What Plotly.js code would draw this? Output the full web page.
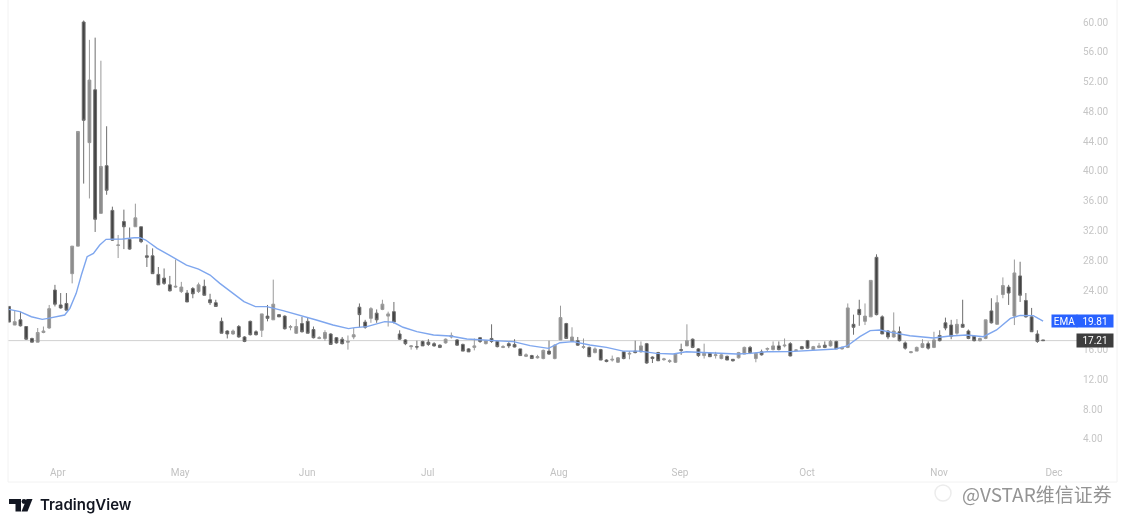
<!DOCTYPE html>
<html>
<head>
<meta charset="utf-8">
<script src="https://cdn.plot.ly/plotly-3.0.1.min.js"></script>
<style>
  html, body { margin: 0; padding: 0; background: #fff; }
  #chart { width: 1125px; height: 529px; filter: blur(0.4px); }
  #logo { position: absolute; left: 9px; top: 499px; filter: blur(0.3px); }
</style>
</head>
<body>
<div id="chart"></div>
<svg id="logo" width="24" height="13" viewBox="0 0 24 13">
  <path d="M0 0H12V12.5H6.5V5H0Z" fill="#131722"/>
  <circle cx="15" cy="2.5" r="2.4" fill="#131722"/>
  <path d="M17.5 0H23.5L18.5 12.5H12.5Z" fill="#131722"/>
</svg>
<script>
const opens = [21.8,19.3,20.0,19.1,17.5,17.0,18.3,18.9,24.0,22.0,22.2,26.2,29.9,60.0,43.8,50.9,34.3,40.7,34.7,30.0,
  33.2,30.8,32.5,32.5,28.6,28.6,26.1,25.6,24.7,24.4,23.8,23.6,24.2,23.8,24.5,22.7,22.3,19.8,18.5,18.1,
  19.1,17.7,19.8,18.4,18.6,20.5,20.0,20.7,20.5,19.0,18.2,19.5,19.8,18.7,17.5,17.5,18.1,17.6,17.4,17.0,
  17.7,21.7,19.7,20.2,20.9,21.4,20.5,21.1,18.1,17.3,16.4,16.4,17.1,17.0,16.8,16.6,16.9,17.7,17.3,16.7,
  16.1,16.3,17.6,16.8,17.5,17.1,16.3,16.8,16.7,16.1,15.1,15.2,14.9,14.8,15.8,14.8,17.3,19.5,17.1,17.2,
  16.3,16.3,15.6,16.0,14.6,14.6,14.3,15.7,15.4,15.8,15.7,16.8,15.0,15.6,14.65,14.4,14.3,16.0,16.5,17.4,
  16.1,15.2,15.5,15.2,14.8,15.1,14.7,14.9,15.4,16.3,14.8,15.7,16.05,16.0,16.5,16.5,16.8,15.9,16.4,17.2,
  16.0,16.3,16.6,16.5,17.1,16.1,16.3,19.4,21.4,19.8,20.4,28.4,20.4,18.5,17.7,18.4,16.9,15.6,15.8,16.3,
  16.8,16.3,17.9,19.6,19.3,18.2,19.4,18.5,17.8,17.2,17.5,21.2,19.4,23.4,24.4,20.5,25.9,22.6,20.4,18.1,17.3];
const highs = [21.8,21.3,21.1,19.1,17.6,18.9,19.1,22.0,24.7,23.6,23.6,29.9,45.3,60.2,57.6,57.9,54.8,46.0,35.2,31.4,
  34.8,32.4,35.6,32.5,30.1,29.6,27.1,26.9,25.9,28.1,25.1,24.0,24.4,25.0,25.4,23.5,22.7,20.3,18.6,18.7,
  19.3,17.8,19.9,18.6,20.8,22.0,25.4,20.7,20.6,19.3,20.1,20.4,20.3,19.1,17.8,18.6,18.2,17.7,17.7,17.9,
  18.9,22.2,20.0,21.7,21.4,22.7,21.1,22.4,18.6,17.4,16.6,17.2,17.2,17.4,17.0,16.7,17.5,18.3,17.4,16.8,
  16.2,17.5,17.7,17.3,19.4,17.2,16.6,17.0,17.4,16.1,15.5,15.3,15.3,16.0,17.2,16.7,21.9,19.6,19.0,17.7,
  17.5,16.4,16.3,16.1,14.7,15.2,15.0,15.8,15.8,17.2,17.1,16.9,15.1,15.7,14.9,14.7,15.5,16.8,19.4,17.5,
  16.2,16.8,15.6,15.7,15.5,15.2,14.7,15.7,16.4,16.5,15.6,16.0,16.3,17.1,17.1,17.5,17.0,16.0,16.5,17.3,
  16.5,16.9,17.1,17.3,17.2,16.4,22.2,20.7,22.7,22.2,25.3,28.8,20.6,18.6,21.0,19.1,17.1,15.8,16.4,17.4,
  17.1,18.4,18.6,20.3,20.0,20.1,22.7,18.7,17.9,17.6,20.0,22.9,23.3,25.7,24.7,28.1,27.8,23.6,21.6,18.6,17.3];
const lows = [19.7,19.3,19.1,17.3,17.0,17.0,18.2,18.8,21.8,21.5,21.3,24.9,29.9,38.3,36.3,31.8,34.3,36.8,30.6,28.3,
  29.5,29.4,32.5,30.3,27.1,26.2,24.7,24.7,23.8,24.3,23.6,22.4,22.9,23.6,23.3,22.0,21.8,18.2,17.5,18.0,
  17.6,17.0,17.9,17.9,17.7,19.8,20.0,20.4,18.7,18.6,18.1,18.3,18.2,17.5,17.4,17.2,16.7,16.8,16.7,16.0,
  17.4,19.0,18.8,19.6,19.6,21.3,19.1,19.5,17.3,16.6,16.0,16.0,16.5,16.5,16.4,16.2,16.8,17.5,16.5,15.8,
  15.7,15.9,16.9,16.7,16.9,16.3,16.2,16.2,16.3,15.2,15.0,14.8,14.8,14.7,15.3,14.7,17.3,17.5,17.1,16.5,
  16.1,15.0,15.5,14.6,14.3,14.4,14.2,14.7,14.7,15.5,15.6,14.1,14.2,14.5,14.5,14.2,14.2,15.3,16.5,16.2,
  15.0,14.8,15.0,14.8,14.7,14.6,14.4,14.8,15.4,15.4,14.3,15.2,15.8,15.9,15.9,16.3,15.1,15.8,16.1,16.1,
  16.0,16.2,16.2,16.4,16.1,16.0,16.2,18.0,19.2,19.3,20.4,20.6,18.1,17.4,17.6,17.1,16.0,15.5,15.8,16.2,
  16.0,16.2,17.1,18.6,17.4,18.0,19.0,17.4,17.1,17.1,17.4,19.5,19.4,22.9,22.0,19.3,22.4,20.3,18.4,16.9,17.2];
const closes = [19.7,19.75,19.2,17.4,17.0,18.3,18.5,21.5,22.1,21.6,21.3,29.9,45.3,46.8,52.2,33.5,40.6,37.4,30.7,30.05,
  32.5,29.5,33.7,30.5,28.4,26.2,24.7,24.9,23.9,24.5,24.4,22.4,23.5,24.7,23.3,22.3,21.8,18.2,18.1,18.5,
  17.7,17.1,18.0,18.0,20.8,20.2,22.1,20.4,18.8,19.1,19.1,18.4,18.2,17.6,17.6,18.3,16.7,16.9,16.8,17.1,
  18.0,20.7,19.0,21.5,20.0,22.1,20.8,19.7,17.4,16.8,16.5,16.35,16.5,16.7,16.5,16.3,17.4,17.9,16.6,15.8,
  15.7,16.5,17.1,17.2,17.1,16.4,16.4,16.5,16.35,15.2,15.3,14.8,15.05,15.9,15.4,16.6,20.3,17.5,17.7,16.6,
  16.4,15.05,16.1,14.6,14.4,14.7,14.9,14.8,15.5,15.6,16.5,14.2,14.8,14.5,14.75,14.5,15.4,15.9,17.2,16.3,
  15.2,15.5,15.05,15.3,15.3,14.6,14.5,15.6,16.3,15.6,15.5,15.3,16.15,16.5,16.0,16.6,15.15,15.95,16.1,16.2,
  16.4,16.5,16.3,17.1,16.1,16.3,21.6,19.0,20.7,20.5,25.3,20.7,18.1,17.7,18.5,17.2,16.2,15.7,16.3,16.8,
  16.2,17.3,17.2,18.9,17.8,19.4,19.0,17.5,17.2,17.5,20.0,19.6,22.3,24.6,23.6,26.3,23.3,20.4,18.4,17.1,17.21];

const emaIdx = [0,1.9,3.9,5.8,6.8,9.7,10.6,11.7,12.6,13.6,14.7,15.8,16.9,17.8,19.8,21.8,22.8,23.8,25.8,27.9,30.9,33,35,36.7,38.9,40.9,42.9,44.9,
  47.7,50.6,53.5,56.4,59.1,60.2,62.3,65.4,66.9,68.6,71,73.9,76.8,79.7,82.6,85.5,
  87.8,90.7,93.9,95.9,98.2,101.1,104,106.9,109.8,112.7,115.6,117.9,121.4,124.3,126.7,129,131.9,
  135.9,139.4,143.9,145.9,148.1,149.9,151.6,153.6,156.8,160.9,163.8,166.7,169.6,171.9,174.3,176,178.3,180];
const emaVal = [21.41,21.1,20.42,20.07,20.2,20.65,21.54,23.56,26.02,28.48,28.93,30.05,30.81,30.81,30.86,31.03,31.03,30.72,29.6,28.7,27.36,26.8,26.02,24.9,23.56,22.44,21.77,21.77,
  21.23,20.65,19.98,19.31,18.82,18.95,19.09,19.76,19.67,19,18.41,17.97,17.83,17.43,17.3,17.2,
  17.07,16.53,16.17,16.93,17.07,16.62,16.31,15.8,15.8,15.5,15.41,15.72,15.59,15.5,15.41,15.5,15.72,
  15.73,15.86,16.08,16.49,17.74,18.55,18.64,18.32,17.87,17.56,17.83,17.96,17.74,18.64,20.2,20.6,20.56,19.84];

const monthTicks = [8.5,29.8,51.9,72.9,95.7,116.8,138.9,161.9,181.9];
const monthLabels = ['Apr','May','Jun','Jul','Aug','Sep','Oct','Nov','Dec'];
const priceTicks = [60,56,52,48,44,40,36,32,28,24,16,12,8,4]; // 20.00 sits behind the EMA tag
const lastPrice = 17.21;
const lastEma = 19.81;

// page pixels -> paper coords, plot area is x 8..1082, y 0..465
const px = x => (x - 8) / 1074;
const py = y => (465 - y) / 465;

const FONT = 'Roboto, sans-serif';

function tag(x, y, text, w, h, bg) {
  return { xref: 'paper', yref: 'y', x: px(x), y, xanchor: 'center', yanchor: 'middle', text, showarrow: false,
    width: w, height: h, borderpad: 0, bgcolor: bg, font: { color: '#fff', size: 10, family: FONT } };
}

Plotly.newPlot('chart', [{
  type: 'candlestick',
  x: opens.map((_, i) => i),
  open: opens, high: highs, low: lows, close: closes,
  width: 0.6,
  whiskerwidth: 0,
  increasing: { line: { color: '#9a9a9a', width: 1 }, fillcolor: '#8c8c8c' },
  decreasing: { line: { color: '#6e6e6e', width: 1 }, fillcolor: '#444444' },
  hoverinfo: 'skip',
}, {
  type: 'scatter', mode: 'lines',
  x: emaIdx, y: emaVal,
  line: { color: '#7ea6ee', width: 1.4 },
  hoverinfo: 'skip',
}], {
  width: 1125, height: 529,
  margin: { l: 8, r: 43, t: 0, b: 64 },
  paper_bgcolor: '#fff', plot_bgcolor: '#fff',
  showlegend: false,
  font: { family: FONT, size: 10, color: '#c6c6c6' },
  xaxis: {
    type: 'linear', range: [-0.17, 186.77],
    rangeslider: { visible: false },
    tickmode: 'array', tickvals: monthTicks, ticktext: monthLabels,
    showgrid: false, zeroline: false, showline: false, ticks: '',
    tickfont: { size: 10, color: '#c2c2c2' },
  },
  yaxis: {
    side: 'right', range: [0.505, 62.955],
    tickmode: 'array', tickvals: priceTicks, tickformat: '.2f',
    showgrid: false, zeroline: false, showline: false, ticks: '',
    tickfont: { size: 10, color: '#c6c6c6' },
  },
  shapes: [
    { type: 'line', xref: 'paper', yref: 'y', x0: 0, x1: px(1077), y0: lastPrice, y1: lastPrice, layer: 'below',
      line: { color: '#d0d0d0', width: 1 } },
    { type: 'line', xref: 'paper', yref: 'paper', x0: px(8), x1: px(8), y0: py(0), y1: py(482), line: { color: '#f2f2f2', width: 1 } },
    { type: 'line', xref: 'paper', yref: 'paper', x0: px(1117), x1: px(1117), y0: py(0), y1: py(482), line: { color: '#f2f2f2', width: 1 } },
    { type: 'line', xref: 'paper', yref: 'paper', x0: px(8), x1: px(1117), y0: py(482), y1: py(482), line: { color: '#f2f2f2', width: 1 } },
    { type: 'circle', xref: 'paper', yref: 'paper', x0: px(935), x1: px(951), y0: py(485), y1: py(501), line: { color: '#ececec', width: 1.5 } },
  ],
  annotations: [
    tag(1064, lastEma, 'EMA', 25, 12, '#2962ff'),
    tag(1095, lastEma, lastEma.toFixed(2), 36, 12, '#2962ff'),
    tag(1095, lastPrice, lastPrice.toFixed(2), 36, 13, '#3d3d3d'),
    { xref: 'paper', yref: 'paper', x: px(38), y: py(505), xanchor: 'left', yanchor: 'middle', text: 'TradingView', showarrow: false,
      font: { color: '#131722', size: 15, family: 'Inter, sans-serif', weight: 600 } },
    { xref: 'paper', yref: 'paper', x: px(960), y: py(494), xanchor: 'left', yanchor: 'middle', text: '@VSTAR维信证券', showarrow: false,
      font: { color: '#949494', size: 19, family: '"Noto Sans CJK SC", sans-serif' } },
  ],
}, { displayModeBar: false, staticPlot: true });
</script>
</body>
</html>
